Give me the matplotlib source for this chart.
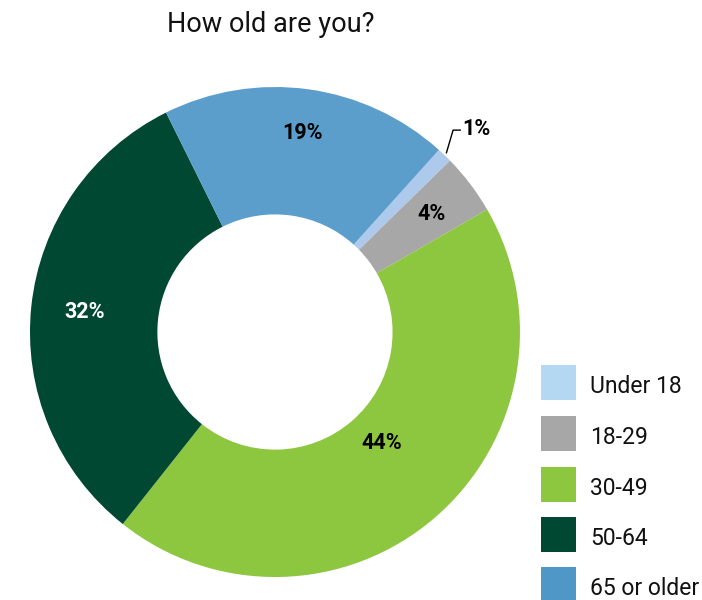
import matplotlib
matplotlib.use("Agg")
import matplotlib.pyplot as plt
from matplotlib.patches import Rectangle
import numpy as np

plt.rcParams['font.family'] = ['Roboto', 'DejaVu Sans']

title = "How old are you?"
categories = ["Under 18", "18-29", "30-49", "50-64", "65 or older"]
values = [1, 4, 44, 32, 19]
labels = ["1%", "4%", "44%", "32%", "19%"]
colors = ["#adc9ec", "#a8a7a7", "#8dc63f", "#004831", "#5b9ecb"]
legend_colors = ["#b5d8f2", "#a8a7a7", "#8dc63f", "#004831", "#4f97c7"]

W, H = 702, 600
fig = plt.figure(figsize=(W / 100, H / 100), dpi=100)
ax = fig.add_axes([0.0427, 0.0383, 0.698, 0.8167])
ax.set_aspect('equal')
ax.axis('off')

wedges, _ = ax.pie(values, colors=colors, startangle=48, counterclock=False,
                   radius=1.0, wedgeprops=dict(width=0.52, linewidth=0),
                   center=(0, 0))
ax.set_xlim(-1, 1)
ax.set_ylim(-1, 1)

label_r = [None, 0.80, 0.63, 0.78, 0.82]
label_dang = [0, 0, 3, 0, 0]
label_col = ["black", "black", "black", "white", "black"]
for i, w in enumerate(wedges):
    mid = np.deg2rad((w.theta1 + w.theta2) / 2 + label_dang[i])
    if i == 0:
        x0, y0 = 1.01 * np.cos(mid), 1.01 * np.sin(mid)
        ax.plot([x0, 0.727, 0.759], [y0, 0.824, 0.824],
                color="black", lw=1.0, clip_on=False, solid_capstyle='butt')
        ax.text(0.765, 0.83, labels[i], ha='left', va='center',
                fontsize=15.5, fontweight='bold', color='black')
    else:
        r = label_r[i]
        ax.text(r * np.cos(mid), r * np.sin(mid), labels[i], ha='center',
                va='center', fontsize=15.5, fontweight='bold',
                color=label_col[i])

fig.text(271 / W, 1 - 32 / H, title, ha='center', va='baseline',
         fontsize=19.5, color='#111111')

# legend
sq = 35
x_sq = 541
tops = [365, 416, 467, 517, 567]
for top, c, name in zip(tops, legend_colors, categories):
    fig.add_artist(Rectangle((x_sq / W, 1 - (top + sq) / H), sq / W, sq / H,
                             transform=fig.transFigure, facecolor=c,
                             edgecolor='none'))
    fig.text(590 / W, 1 - (top + 28) / H, name, ha='left', va='baseline',
             fontsize=16.5, color='#111111')

fig.savefig("out.png", dpi=100, facecolor='white')
